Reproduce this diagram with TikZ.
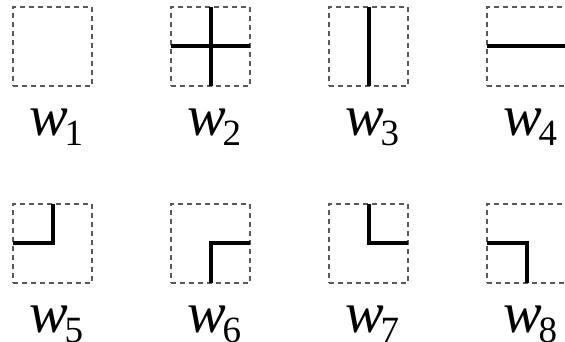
\documentclass[tikz,border=0pt]{standalone}
\usepackage{fontspec}
\setmainfont{Liberation Serif}
\usetikzlibrary{positioning}

\newcommand{\wsub}[1]{{\itshape w}\kern-0.07em\raisebox{-10pt}{\fontsize{37}{37}\selectfont #1}}

\begin{document}
\begin{tikzpicture}[
			x=1pt, y=1pt,
			tile/.style={rectangle, draw=black!65, line width=1.2pt, dash pattern=on 5pt off 4pt, minimum size=79pt, inner sep=0pt, outer sep=0pt},
			lab/.style={anchor=base, inner sep=0pt, xshift=4pt, font=\fontsize{58}{58}\selectfont},
			wire/.style={line width=4pt, black, line join=miter}
			]
			\useasboundingbox (0,0) rectangle (565,342);
			
			% top row
			\node[tile] (t1) at (52.5,295.5) {};
			\node[tile, right=79pt of t1] (t2) {};
			\node[tile, right=79pt of t2] (t3) {};
			\node[tile, right=79pt of t3] (t4) {};
			
			% bottom row
			\node[tile, below=118pt of t1] (t5) {};
			\node[tile, right=79pt of t5] (t6) {};
			\node[tile, right=79pt of t6] (t7) {};
			\node[tile, right=79pt of t7] (t8) {};
			
			% labels
			\foreach \i in {1,...,8}
			\node[lab] (l\i) at ([yshift=-50pt]t\i.south) {\wsub{\i}};
			
			% wires
			\draw[wire] (t2.west) -- (t2.east);
			\draw[wire] (t2.north) -- (t2.south);
			\draw[wire] (t3.north) -- (t3.south);
			\draw[wire] (t4.west) -- (t4.east);
			\draw[wire] (t5.west) -- (t5.center) -- (t5.north);
			\draw[wire] (t6.east) -- (t6.center) -- (t6.south);
			\draw[wire] (t7.north) -- (t7.center) -- (t7.east);
			\draw[wire] (t8.west) -- (t8.center) -- (t8.south);
		\end{tikzpicture}
\end{document}
